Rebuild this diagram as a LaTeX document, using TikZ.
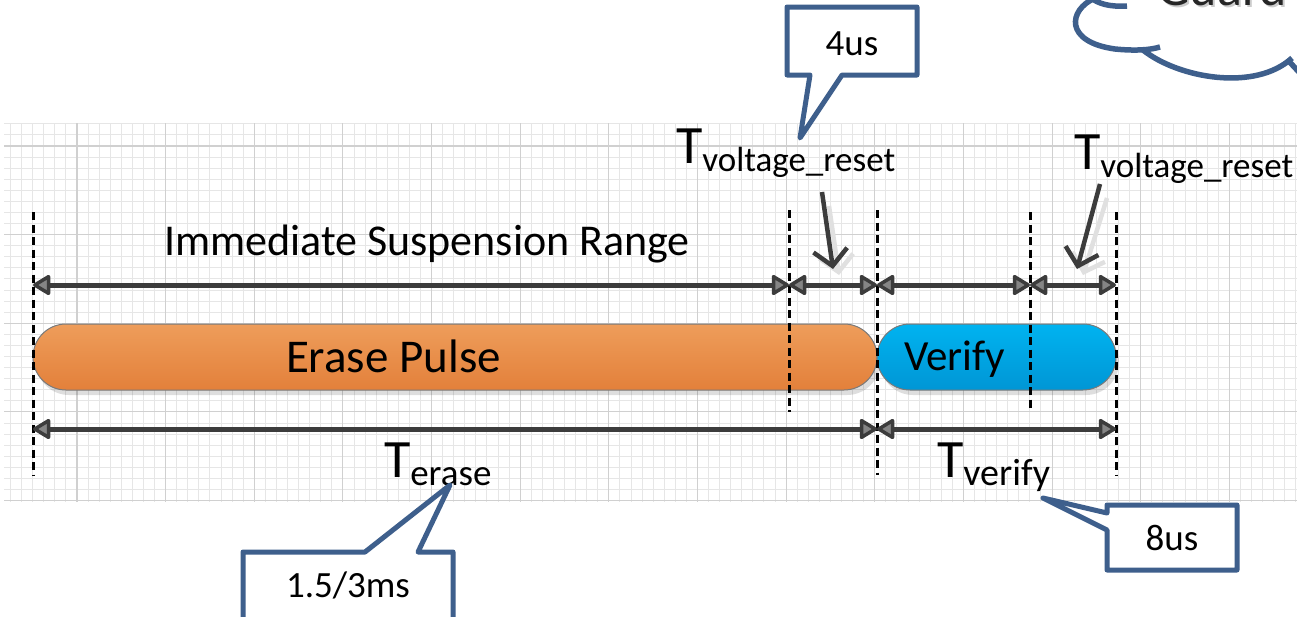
\documentclass[tikz,border=0pt]{standalone}
\usepackage{fontspec}
\setmainfont{Carlito}
\usetikzlibrary{arrows.meta,shadows,calc}
\definecolor{dimgray}{HTML}{3C3C3C}
\definecolor{arrowfill}{HTML}{858585}
\definecolor{calloutblue}{HTML}{3E5F8C}
\definecolor{gridminor}{HTML}{E6E6E6}
\definecolor{gridmajor}{HTML}{D0D0D0}
\definecolor{eraseTop}{HTML}{EE9D5B}
\definecolor{eraseBot}{HTML}{E3803A}
\definecolor{verTop}{HTML}{00B3F0}
\definecolor{verBot}{HTML}{0096D5}
\definecolor{pilledge}{HTML}{7A7A7A}
\newcommand{\myfs}[1]{\fontsize{#1}{#1}\selectfont}
\newcommand{\Tsub}[2]{{\myfs{54}T}\raisebox{-8.5pt}{\myfs{#2}#1}}
\begin{document}
\begin{tikzpicture}[x=1pt,y=-1pt,
  gmin/.style={draw=gridminor,line width=1pt},
  gmaj/.style={draw=gridmajor,line width=1.1pt},
  pill/.style={draw=pilledge,line width=1pt,inner sep=0pt,outer sep=0pt,
     minimum height=66pt,rounded corners=33pt,
     drop shadow={shadow xshift=3pt,shadow yshift=-5pt,fill=black,opacity=0.13}},
  dashv/.style={draw=black,line width=3pt,dash pattern=on 8pt off 4.5pt},
  dimtip/.tip={Triangle[length=19pt,width=22pt,fill=arrowfill,line width=3.5pt,round]},
  dimline/.style={draw=dimgray,line width=5pt,dimtip-dimtip},
  pointer/.style={draw=dimgray,line width=4.5pt,-{Straight Barb[length=16pt,width=34pt,line width=4.5pt]}},
  pointershadow/.style={draw=black!12,line width=4.5pt,-{Straight Barb[length=16pt,width=34pt,line width=4.5pt]}},
  lbl/.style={inner sep=0pt,outer sep=0pt,text=black},
  callout/.style={draw=calloutblue,line width=5pt,fill=white,line join=round},
  cloudline/.style={draw=calloutblue,line width=5.5pt,line cap=butt}
]
\useasboundingbox (0,0) rectangle (1297,616);
\clip (0,0) rectangle (1297,616);
\fill[white] (0,0) rectangle (1297,616);
% grid
\foreach \k in {-6,...,110}{\draw[gmin] ({77+\k*11.08},123) -- ({77+\k*11.08},502);}
\foreach \k in {-2,...,32}{\draw[gmin] (4,{146+\k*11.08}) -- (1297,{146+\k*11.08});}
\foreach \k in {0,8,...,104}{\draw[gmaj] ({77+\k*11.08},123) -- ({77+\k*11.08},502);}
\foreach \k in {0,8,...,32}{\draw[gmaj] (4,{146+\k*11.08}) -- (1297,{146+\k*11.08});}

% pills
\node[pill,minimum width=844pt,top color=eraseTop,bottom color=eraseBot] (erase) at (455,357) {};
\node[pill,minimum width=239pt,top color=verTop,bottom color=verBot] (verify) at (996.5,357) {};
\node[lbl,anchor=base west] (erasetxt) at (286,372) {\myfs{47}Erase Pulse};
\node[lbl,anchor=base west] (verifytxt) at (904,370) {\myfs{43}Verify};

% dashed guides
\coordinate (d0t) at (33,212);  \coordinate (d0b) at (33,475);
\coordinate (d1t) at (789,210); \coordinate (d1b) at (789,412);
\coordinate (d2t) at (877,210); \coordinate (d2b) at (877,475);
\coordinate (d3t) at (1030,212); \coordinate (d3b) at (1030,412);
\coordinate (d4t) at (1116,212); \coordinate (d4b) at (1116,475);
\draw[dashv] (d0t) -- (d0b);
\draw[dashv] (d1t) -- (d1b);
\draw[dashv] (d2t) -- (d2b);
\draw[dashv] (d3t) -- (d3b);
\draw[dashv] (d4t) -- (d4b);

% dimension lines
\coordinate (t0) at (33,285);
\coordinate (t1) at (789,285);
\coordinate (t2) at (877,285);
\coordinate (t3) at (1030,285);
\coordinate (t4) at (1116,285);
\coordinate (b0) at (33,429);
\coordinate (b2) at (877,429);
\coordinate (b4) at (1116,429);
\draw[dimline] (t0) -- (t1);
\draw[dimline] (t1) -- (t2);
\draw[dimline] (t2) -- (t3);
\draw[dimline] (t3) -- (t4);
\draw[dimline] (b0) -- (b2);
\draw[dimline] (b2) -- (b4);

% labels
\node[lbl,anchor=base west] (isr) at (164,255) {\myfs{44}Immediate Suspension Range};
\node[lbl,anchor=base west] (tvr1) at (676,163) {\Tsub{voltage\_reset}{35}};
\node[lbl,anchor=base west] (tvr2) at (1074,169) {\Tsub{voltage\_reset}{35}};
\node[lbl,anchor=base west] (terase) at (384,477) {\Tsub{erase}{37}};
\node[lbl,anchor=base west] (tverify) at (937,477) {\Tsub{verify}{38}};

% pointer arrows
\coordinate (p1s) at (822,192); \coordinate (p1e) at (833,269);
\coordinate (p2s) at (1100,184); \coordinate (p2e) at (1077,269);
\draw[pointershadow] ($(p1s)+(7,14)$) -- ($(p1e)+(6,6)$);
\draw[pointershadow] ($(p2s)+(7,14)$) -- ($(p2e)+(6,6)$);
\draw[pointer] (p1s) -- (p1e);
\draw[pointer] (p2s) -- (p2e);

% callouts
\draw[callout] (787,7) -- (917,7) -- (917,75) -- (842,75) -- (800,138) -- (810,75) -- (787,75) -- cycle;
\node[lbl,anchor=base] (c4us) at (852,55) {\myfs{37}4us};
\draw[callout] (243,640) -- (243,552) -- (365,552) -- (450,485) -- (418,552) -- (453,552) -- (453,640);
\node[lbl,anchor=base] (c15) at (348,597) {\myfs{37}1.5/3ms};
\draw[callout] (1107,505) -- (1237,505) -- (1237,570) -- (1107,570) -- (1107,530) -- (1043,498) -- (1107,513) -- cycle;
\node[lbl,anchor=base] (c8us) at (1172,550) {\myfs{37}8us};

% cloud (partially visible)
\draw[cloudline] (1127,6) .. controls (1110,7) and (1098,4) .. (1090,-3);
\draw[cloudline] (1095,-2) .. controls (1068,10) and (1064,42) .. (1115,49) .. controls (1135,51) and (1150,50) .. (1160,47);
\draw[cloudline] (1143,50) .. controls (1178,78) and (1255,92) .. (1292,58);
\draw[cloudline] (1287,60) .. controls (1291,63) and (1294,67) .. (1299,72);
\node[lbl,anchor=base west,text=black!20] (guardsh) at (1159,7) {\myfs{52}Guard};
\node[lbl,anchor=base west,text=black!85] (guard) at (1157,5) {\myfs{52}Guard};
\end{tikzpicture}
\end{document}
